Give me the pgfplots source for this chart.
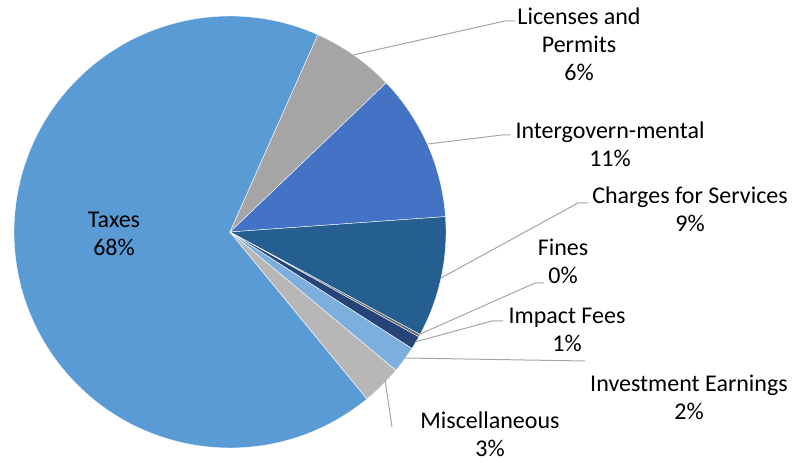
\documentclass[border=0pt]{standalone}
\usepackage{pgfplots}
\pgfplotsset{compat=1.18}
\usepackage{fontspec}
\setmainfont{Carlito}
\definecolor{c1}{HTML}{5B9BD5}
\definecolor{c2}{HTML}{A5A5A5}
\definecolor{c3}{HTML}{4472C4}
\definecolor{c4}{HTML}{255E91}
\definecolor{c5}{HTML}{636363}
\definecolor{c6}{HTML}{264478}
\definecolor{c7}{HTML}{7CAFDD}
\definecolor{c8}{HTML}{B7B7B7}
\definecolor{leader}{HTML}{A6A6A6}
\begin{document}
\begin{tikzpicture}
% slice values (percent): Taxes, Licenses and Permits, Intergovernmental,
% Charges for Services, Fines, Impact Fees, Investment Earnings, Miscellaneous
\def\cur{-50.64}
\foreach \v [count=\i] in {67.6,6.2,11.0,9.0,0.2,1.0,2.0,3.0} {
  \pgfmathsetmacro\e{\cur-3.6*\v}
  \expandafter\xdef\csname sa\i\endcsname{\cur}
  \expandafter\xdef\csname ea\i\endcsname{\e}
  \xdef\cur{\e}
}
\begin{axis}[
  x=0.75pt, y=0.75pt,
  xmin=0, xmax=793, ymin=0, ymax=463,
  hide axis, clip=false,
]
\coordinate (bl) at (axis cs:0,0);
\coordinate (tr) at (axis cs:793,463);
\pgfplotsinvokeforeach{1,2,3,4,5,6,7,8}{
  \fill[c#1, draw=white, line width=0.3pt] (axis cs:230,231) -- ([shift={(\csname sa#1\endcsname:162pt)}]axis cs:230,231)
    arc[start angle=\csname sa#1\endcsname, end angle=\csname ea#1\endcsname, radius=162pt] -- cycle;
}
\draw[leader, line width=0.75pt] (axis cs:353,408) -- (axis cs:505,442) -- (axis cs:515,442);
\draw[leader, line width=0.75pt] (axis cs:428,319) -- (axis cs:502,328) -- (axis cs:510,328);
\draw[leader, line width=0.75pt] (axis cs:441,185) -- (axis cs:578,260) -- (axis cs:588,260);
\draw[leader, line width=0.75pt] (axis cs:418,128) -- (axis cs:535,180) -- (axis cs:544,180);
\draw[leader, line width=0.75pt] (axis cs:415,121) -- (axis cs:492,142) -- (axis cs:503,142);
\draw[leader, line width=0.75pt] (axis cs:405,105) -- (axis cs:585,102);
\draw[leader, line width=0.75pt] (axis cs:385,83) -- (axis cs:392,36);
\tikzset{lbl/.style={align=center, inner sep=0pt, font=\fontsize{18}{21}\selectfont, text=black}}
\node[lbl] at (axis cs:114,229) {Taxes\\68\%};
\node[lbl] at (axis cs:579,419) {Licenses and\\Permits\\6\%};
\node[lbl] at (axis cs:610,319) {Intergovern-mental\\11\%};
\node[lbl] at (axis cs:690,254) {Charges for Services\\9\%};
\node[lbl] at (axis cs:563,202) {Fines\\0\%};
\node[lbl] at (axis cs:567,133) {Impact Fees\\1\%};
\node[lbl] at (axis cs:689,66) {Investment Earnings\\2\%};
\node[lbl] at (axis cs:490,29) {Miscellaneous\\3\%};
\end{axis}
\pgfresetboundingbox
\path[use as bounding box] (bl) rectangle (tr);
\end{tikzpicture}
\end{document}
